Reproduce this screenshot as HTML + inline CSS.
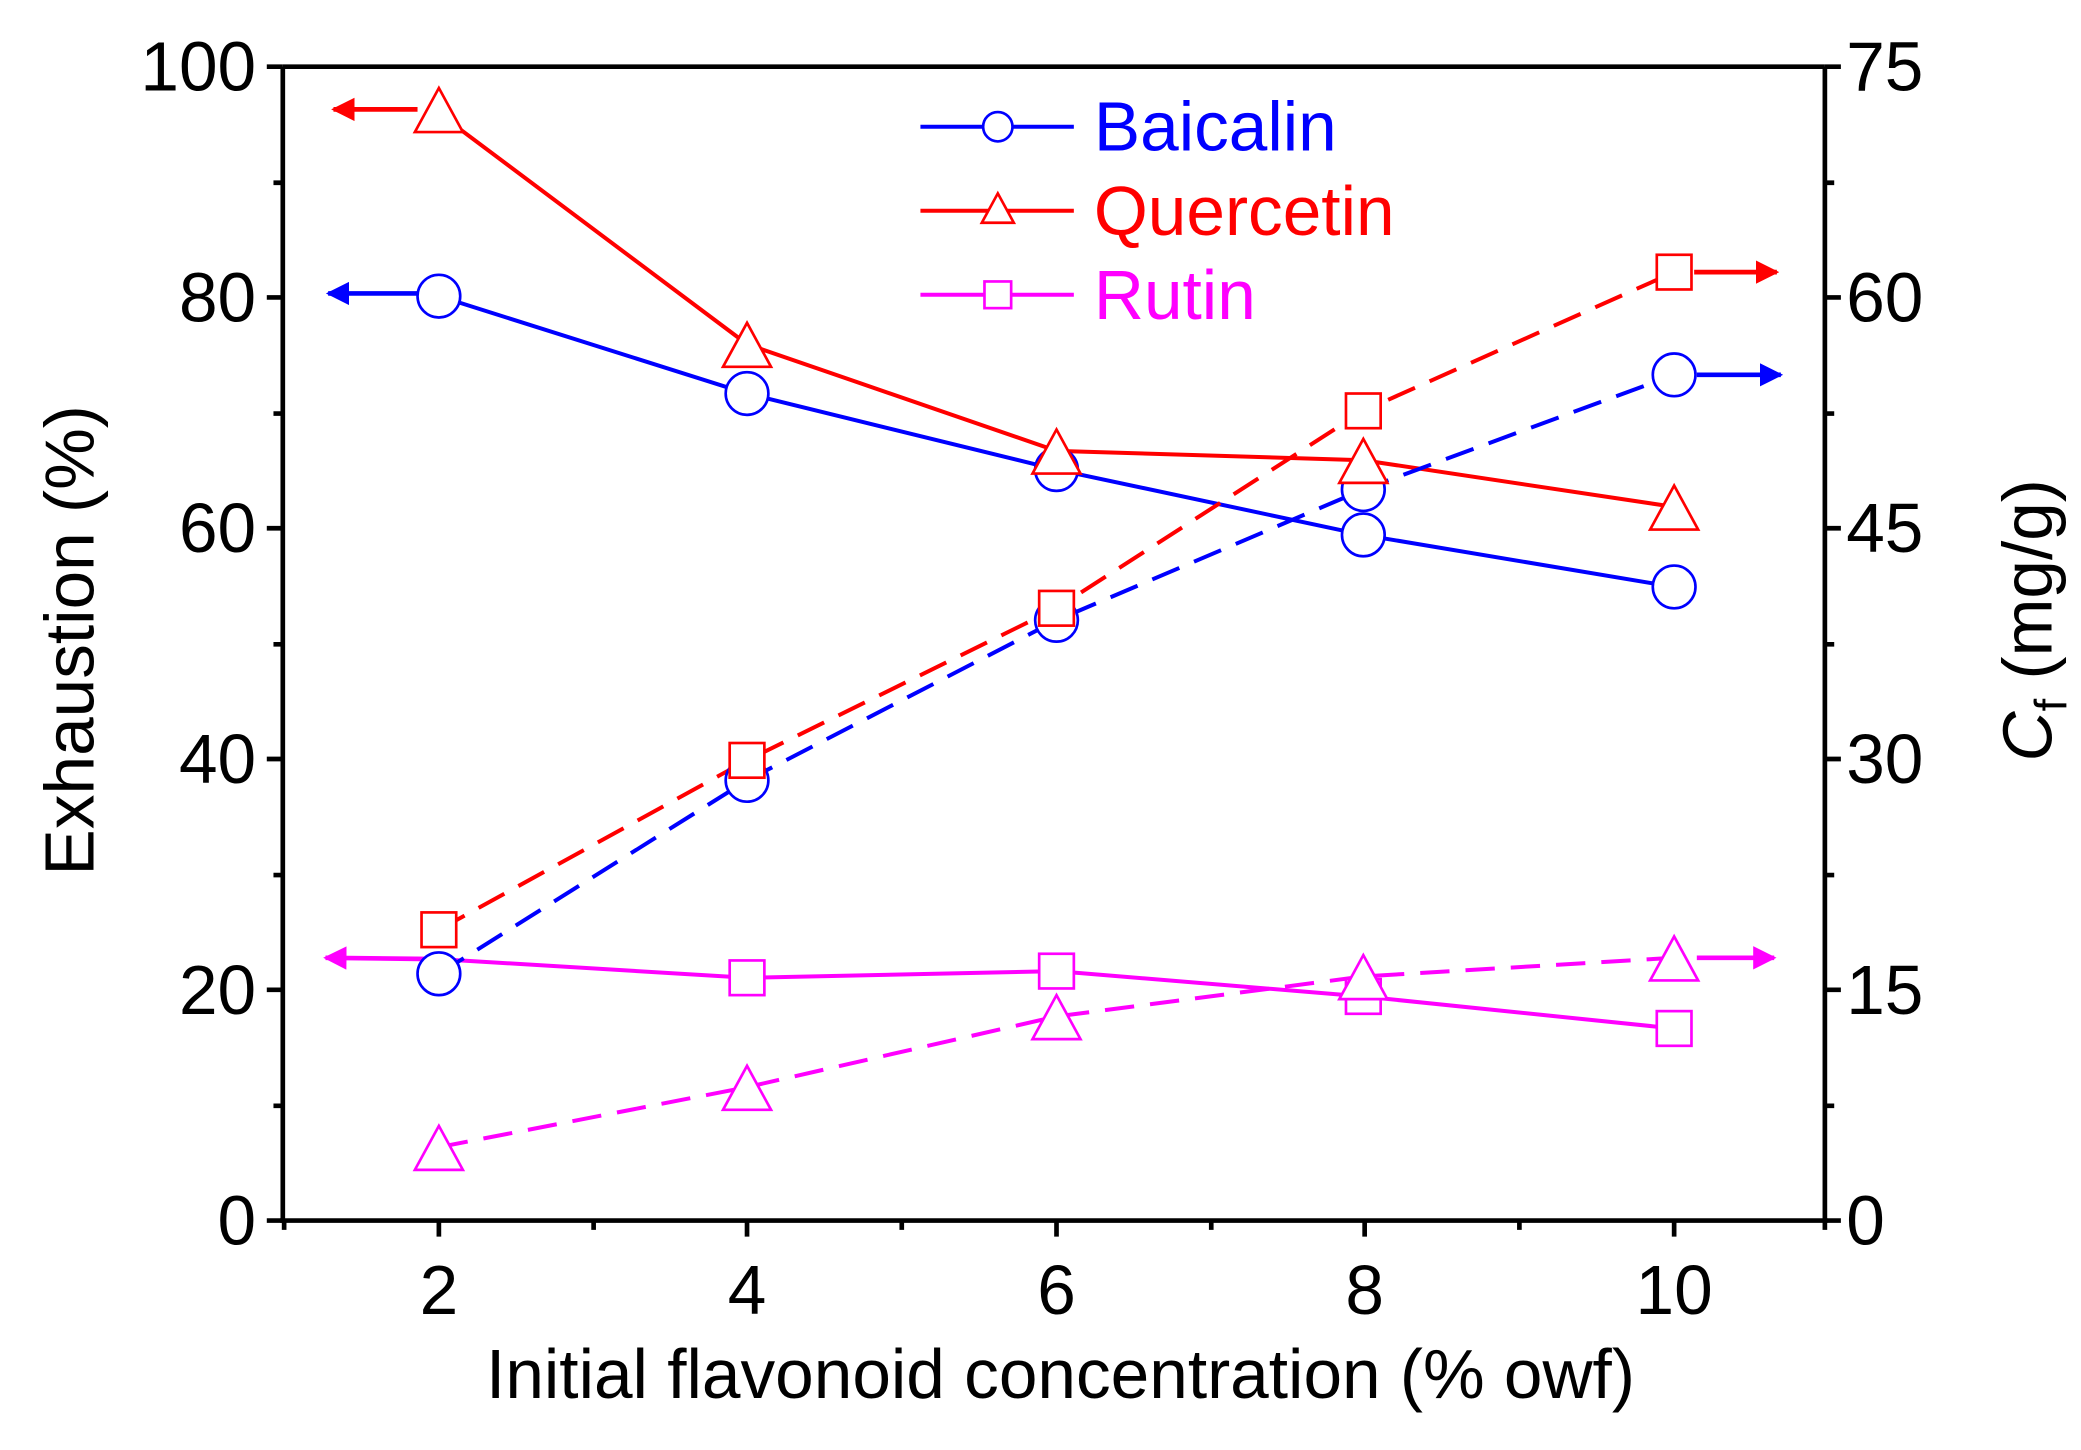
<!DOCTYPE html>
<html><head><meta charset="utf-8"><style>html,body{margin:0;padding:0;background:#fff}svg{display:block}</style></head>
<body>
<svg width="2081" height="1450" viewBox="0 0 1560 1087" preserveAspectRatio="none" xmlns="http://www.w3.org/2000/svg" font-family="Liberation Sans, Arial, sans-serif">
<defs>
<marker id="ab" viewBox="0 0 10 10" refX="9" refY="5" markerWidth="5" markerHeight="5" orient="auto-start-reverse"><path d="M0,0 L10,5 L0,10 Z" fill="#0000ff"/></marker>
<marker id="ar" viewBox="0 0 10 10" refX="9" refY="5" markerWidth="5" markerHeight="5" orient="auto-start-reverse"><path d="M0,0 L10,5 L0,10 Z" fill="#ff0000"/></marker>
<marker id="am" viewBox="0 0 10 10" refX="9" refY="5" markerWidth="5" markerHeight="5" orient="auto-start-reverse"><path d="M0,0 L10,5 L0,10 Z" fill="#ff00ff"/></marker>
</defs>
<rect width="1560" height="1087" fill="#fff"/>
<g stroke="#000" stroke-width="3.5" fill="none">
<line x1="212" y1="50" x2="1368" y2="50"/>
<line x1="212" y1="50" x2="212" y2="916"/>
<line x1="1368" y1="50" x2="1368" y2="916"/>
<line x1="210" y1="915" x2="1370" y2="915"/>
<path d="M200 50H212M200 223H212M200 396H212M200 569H212M200 742H212M200 915H212"/>
<path d="M205 137H212M205 310H212M205 483H212M205 656H212M205 829H212"/>
<path d="M1368 50H1380M1368 223H1380M1368 396H1380M1368 569H1380M1368 742H1380M1368 915H1380"/>
<path d="M1368 137H1375M1368 310H1375M1368 483H1375M1368 656H1375M1368 829H1375"/>
<path d="M329 915V927M560 915V927M792 915V927M1023 915V927M1255 915V927"/>
<path d="M213 915V922M445 915V922M676 915V922M908 915V922M1139 915V922M1368 915V922"/>
</g>
<g font-size="52" fill="#000">
<g text-anchor="end">
<text x="192" y="68">100</text><text x="192" y="241">80</text><text x="192" y="414">60</text><text x="192" y="587">40</text><text x="192" y="760">20</text><text x="192" y="933">0</text>
</g>
<g text-anchor="start">
<text x="1384" y="68">75</text><text x="1384" y="241">60</text><text x="1384" y="414">45</text><text x="1384" y="587">30</text><text x="1384" y="760">15</text><text x="1384" y="933">0</text>
</g>
<g text-anchor="middle">
<text x="329" y="985">2</text><text x="560" y="985">4</text><text x="792" y="985">6</text><text x="1023" y="985">8</text><text x="1255" y="985">10</text>
<text x="795" y="1048">Initial flavonoid concentration (% owf)</text>
<text transform="translate(70,480) rotate(-90)">Exhaustion (%)</text>
<text transform="translate(1538,465) rotate(-90)"><tspan font-style="italic">C</tspan><tspan font-size="34" dy="11">f</tspan><tspan dy="-11"> (mg/g)</tspan></text>
</g>
</g>
<g fill="none" stroke-width="3">
<polyline stroke="#0000ff" points="329,222 560,295 792,352 1022,401 1255,440"/>
<line x1="313" y1="220" x2="246" y2="220" stroke="#0000ff" stroke-width="3.5" marker-end="url(#ab)"/>
<polyline stroke="#ff0000" points="329,85 560,258 792,338 1022,345 1255,380"/>
<line x1="313" y1="82" x2="250" y2="82" stroke="#ff0000" stroke-width="3.5" marker-end="url(#ar)"/>
<polyline stroke="#ff00ff" points="329,719 560,733 792,728 1022,747 1255,771"/>
<line x1="329" y1="719" x2="244" y2="718" stroke="#ff00ff" stroke-width="3.5" marker-end="url(#am)"/>
<polyline stroke="#0000ff" stroke-dasharray="22,12" points="329,730 560,585 792,465 1022,367 1255,281"/>
<line x1="1272" y1="281" x2="1335" y2="281" stroke="#0000ff" stroke-width="3.5" marker-end="url(#ab)"/>
<polyline stroke="#ff0000" stroke-dasharray="22,12" points="329,697 560,570 792,456 1022,308 1255,204"/>
<line x1="1270" y1="204" x2="1332" y2="204" stroke="#ff0000" stroke-width="3.5" marker-end="url(#ar)"/>
<polyline stroke="#ff00ff" stroke-dasharray="22,12" points="329,860 560,815 792,762 1022,732 1255,718"/>
<line x1="1272" y1="718" x2="1330" y2="718" stroke="#ff00ff" stroke-width="3.5" marker-end="url(#am)"/>
</g>
<g fill="#fff" stroke-width="2">
<g stroke="#0000ff">
<circle cx="329" cy="222" r="16"/><circle cx="560" cy="295" r="16"/><circle cx="792" cy="352" r="16"/><circle cx="1022" cy="401" r="16"/><circle cx="1255" cy="440" r="16"/>
<circle cx="329" cy="730" r="16"/><circle cx="560" cy="585" r="16"/><circle cx="792" cy="465" r="16"/><circle cx="1022" cy="367" r="16"/><circle cx="1255" cy="281" r="16"/>
</g>
<g stroke="#ff0000">
<path d="M329 66 L347 99 L311 99 Z"/><path d="M560 242 L578 275 L542 275 Z"/><path d="M792 322 L810 355 L774 355 Z"/><path d="M1022 329 L1040 362 L1004 362 Z"/><path d="M1255 364 L1273 397 L1237 397 Z"/>
<rect x="316" y="684" width="26" height="26"/><rect x="547" y="557" width="26" height="26"/><rect x="779" y="443" width="26" height="26"/><rect x="1009" y="295" width="26" height="26"/><rect x="1242" y="191" width="26" height="26"/>
</g>
<g stroke="#ff00ff">
<rect x="547" y="720" width="26" height="26"/><rect x="779" y="715" width="26" height="26"/><rect x="1009" y="734" width="26" height="26"/><rect x="1242" y="758" width="26" height="26"/>
<path d="M329 844 L347 877 L311 877 Z"/><path d="M560 799 L578 832 L542 832 Z"/><path d="M792 746 L810 779 L774 779 Z"/><path d="M1022 716 L1040 749 L1004 749 Z"/><path d="M1255 702 L1273 735 L1237 735 Z"/>
</g>
</g>
<g stroke-width="3" fill="#fff">
<line x1="690" y1="95" x2="805" y2="95" stroke="#0000ff"/><circle cx="748" cy="95" r="11" stroke="#0000ff" stroke-width="2"/>
<line x1="690" y1="158" x2="805" y2="158" stroke="#ff0000"/><path d="M748 145 L760 167 L736 167 Z" stroke="#ff0000" stroke-width="2"/>
<line x1="690" y1="221" x2="805" y2="221" stroke="#ff00ff"/><rect x="738" y="211" width="20" height="20" stroke="#ff00ff" stroke-width="2"/>
</g>
<g font-size="52">
<text x="820" y="113" fill="#0000ff">Baicalin</text>
<text x="820" y="176" fill="#ff0000">Quercetin</text>
<text x="820" y="239" fill="#ff00ff">Rutin</text>
</g>
</svg>
</body></html>
